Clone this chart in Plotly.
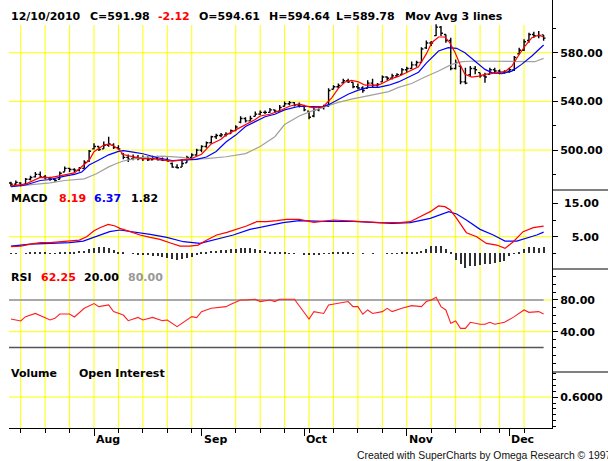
import plotly.graph_objects as go
import pandas as pd

# ---------------- data ----------------
holidays = ["2010-09-06", "2010-11-25"]
dates = [d for d in pd.bdate_range("2010-07-08", "2010-12-10")
         if d.strftime("%Y-%m-%d") not in holidays]
bar_idx = list(range(len(dates)))

opens = [473, 472, 473, 472, 476, 478, 480, 478, 477, 476,
         476, 482, 485, 484, 483.5, 485, 491, 501, 503, 501,
         504, 504, 502, 497, 494, 493, 494, 493, 493, 492,
         493, 492, 491.5, 489, 486, 486, 489.5, 494, 496, 500,
         503, 506, 511, 512, 512.5, 513.5, 516, 523, 526, 524,
         527.7, 529.5, 531, 531, 533, 532, 536, 538, 539, 537,
         536, 532, 528, 533, 535, 536, 550, 552, 555.2, 557,
         555.7, 552, 551, 550.7, 555, 553, 556, 560, 559, 561,
         562.1, 566, 567, 570, 572, 584, 588, 594, 601, 595,
         590, 567, 569, 556, 562, 567, 563.6, 561, 562.2, 566,
         565, 564, 564.5, 566, 579, 582, 590, 595, 594, 594.61]
highs = [474, 475, 473.5, 477, 479, 482, 482.5, 479.5, 478, 477,
         482.4, 486.6, 485.5, 485, 486, 491.6, 500, 505.6, 503, 507,
         511, 505.6, 504, 497.5, 496.4, 496.4, 496, 495.5, 495, 495.4,
         495.4, 494, 494, 489.7, 488.3, 492.6, 495.4, 497.4, 501, 504,
         507, 511.7, 513.4, 514, 514.6, 516.9, 520.3, 527.7, 526.9, 528.3,
         531.7, 532.6, 532.6, 534.6, 533.4, 537.1, 540, 540.3, 539.5, 539,
         537.3, 532, 536, 536, 537.3, 550.7, 553.3, 554.7, 558.7, 558.7,
         555.7, 554.7, 552.5, 557.3, 558.7, 555.2, 561.3, 560.5, 562.7, 563.2,
         567.5, 568.5, 572.8, 573.3, 584.5, 590, 589.6, 603.3, 601.9, 595,
         592.3, 574.5, 569, 567.7, 569, 569, 563.6, 563.6, 567.7, 567.7,
         566.3, 565.5, 567.7, 577.3, 584, 591, 596.4, 597.3, 597.8, 594.64]
lows = [470, 471, 470, 472, 475, 477.5, 477, 476, 474.8, 474,
        476, 482.4, 482, 481.5, 482.4, 484.6, 490.2, 500.5, 499.2, 501,
        502.8, 500.8, 500, 492.4, 490.2, 491.6, 491.6, 491, 491, 491.7,
        491.5, 491, 490.6, 485.4, 484.9, 486, 489.5, 494, 495.4, 498.3,
        502, 505.4, 509, 510.6, 511.1, 513.4, 515.4, 522, 522.6, 524,
        527.7, 528.9, 529.7, 530.6, 530.6, 532, 535.7, 536.8, 535.7, 535,
        532, 525.3, 527, 532, 533.3, 535.5, 549.9, 550.7, 555.2, 555.2,
        550.7, 549.9, 547.2, 550.7, 551.5, 552, 556, 557.3, 557.9, 560,
        562.1, 564, 566.7, 568.5, 572, 583, 585.5, 593.7, 593.7, 588.2,
        565.5, 566.3, 554, 554, 560.8, 562.2, 559.5, 555.3, 562.2, 562.7,
        562.2, 562.7, 563.6, 565, 578.6, 581.4, 588.2, 592.3, 591.8, 589.78]
closes = [472, 473.5, 471, 476, 477.5, 480, 478, 477.5, 476, 475,
          481, 485, 484, 483.5, 485, 490, 499, 503, 500.5, 504,
          505, 502, 501, 494, 492.5, 494, 493, 493, 492, 493,
          492, 491.5, 491, 486, 485.5, 489, 494, 496, 500, 503,
          506, 511, 512, 512.5, 513, 516, 519, 526, 524, 526,
          529.5, 531, 531, 533, 532, 535, 538, 539, 537, 536,
          533, 527, 533, 535, 536, 549, 552, 553, 557, 556,
          552, 551, 549, 555, 553, 554, 560, 559, 561, 562,
          566, 567, 570, 572, 583, 588, 588, 601, 596, 590,
          567, 572, 556, 555, 567, 566, 561, 560, 566, 565,
          564, 564.5, 566, 576, 582, 589, 595, 594, 594.10, 591.98]

# moving averages (bar position, value)
ma_fast_x = [0, 3, 6, 8, 11, 13, 14, 16, 17, 19, 20, 21, 22, 23, 25, 27, 29, 32, 33, 36,
             37, 39, 40, 41, 43, 44, 46, 48, 50, 51, 53, 55, 57, 59, 60, 62, 64, 65.6, 67, 68.4,
             69.7, 71.1, 72.5, 75.2, 76.6, 77.9, 79.3, 80.6, 82, 83.4, 85, 86.1, 87.5, 88.8, 89.8,
             90.9, 91.9, 92.9, 94.3, 95.7, 97, 98.4, 99.7, 101.1, 102.5, 103.8, 105.2, 106.6, 108, 109]
ma_fast_y = [470.6, 472, 477.6, 477.3, 479.6, 481.3, 484.6, 491.6, 498.6, 504.2,
             504.8, 503.6, 500.8, 496.4, 494.4, 493, 492.9, 491.4, 490.9, 492.3,
             493.1, 496.6, 500.9, 505.1, 508.9, 512.3, 516.6, 520.9, 525.1, 528,
             529.4, 532.3, 536, 538, 536.5, 534.7, 536, 542.7, 550.7, 556,
             557.3, 556, 553.3, 553.3, 556, 558.7, 560.5, 563.2, 565.9, 568.5,
             579, 588.2, 592.9, 592.9, 588.2, 580, 570.4, 562.2, 560, 560.8,
             562.2, 562.7, 563.6, 564.4, 569, 577.3, 585.5, 592.3, 594.5, 592.9]
ma_mid_x = [0, 3, 6, 8, 11, 13, 14.5, 16, 18, 20, 22, 23, 25, 27, 30, 32, 33, 36, 38, 40,
            42, 44, 46, 48, 50, 52, 54, 56, 59, 61.5, 63.6, 65, 67, 69.1, 71.1, 73.1, 75.2, 77.3,
            79.3, 81.3, 83.4, 85, 87.5, 89.5, 91.2, 92.9, 95, 97, 98.4, 100.4, 102.5, 104.5, 106.6, 109]
ma_mid_y = [470, 471.3, 475, 475.8, 478.6, 480, 482, 487.7, 491.9, 496.1,
            498.9, 499.5, 498.3, 497, 493.7, 492, 491.4, 492, 492.3, 494.3,
            498.9, 506.6, 512.3, 519.4, 523.7, 527.4, 529.4, 533, 536, 535.5,
            535.5, 537.3, 541.3, 546.1, 549.3, 551.5, 551.5, 553.3, 556, 560,
            564, 571.5, 581.4, 584.1, 583.6, 580, 573.2, 566.3, 563.6, 562.7,
            564.9, 570.4, 577.3, 586.3]
ma_slow_x = [0, 4, 8, 11, 15, 17.5, 20, 21.6, 23, 25, 27, 31, 35, 37, 40, 44, 48, 51, 54, 56,
             59, 61.5, 64.3, 67, 69.7, 72.5, 75.2, 77.3, 79.3, 82, 84.7, 87.5, 90.2, 92.3, 95,
             98.4, 101.8, 105.2, 107.2, 109]
ma_slow_y = [470, 471.3, 473, 475, 476.4, 480.6, 486.2, 489, 491, 492.5,
             494, 495, 494, 492.5, 493, 494.5, 497.1, 502.9, 511, 521,
             528, 532, 535.5, 539.2, 541.9, 544, 546.1, 548, 551.5, 554.7,
             560, 564.9, 570.4, 572.6, 573.2, 573.2, 573.2, 573.2, 572.6, 575.3]

# MACD
macd_x = [0, 2, 4, 6, 8, 10, 12, 14, 15.5, 17, 18.2, 19.9, 21.3, 22.3, 24.4, 26.4, 28.5, 30.5,
          32.5, 34.6, 36.6, 38.3, 40.1, 42.1, 44.2, 46.2, 48.2, 50.3, 52.3, 54.4, 56.4, 59, 62,
          66, 70, 75.5, 79.6, 81.7, 83.7, 85.8, 87.5, 88.8, 89.9, 91.2, 93.2, 95.3, 97.3, 99.4,
          101.1, 102.8, 104.8, 106.9, 109]
macd_y = [2.0, 2.2, 2.8, 3.2, 3.2, 3.5, 3.8, 4.0, 5.0, 6.8, 7.7, 8.7, 8.2, 7.5, 6.5, 5.5, 4.8, 4.2,
          3.2, 2.2, 2.2, 2.5, 4.0, 5.5, 6.3, 7.2, 8.2, 9.5, 9.5, 9.8, 10.2, 10.2, 9.3,
          10.0, 9.6, 9.2, 9.2, 9.5, 11.0, 12.5, 14.2, 14.0, 13.0, 10.5, 6.2, 5.0, 3.0, 2.5,
          1.5, 3.5, 6.5, 7.7, 8.19]
signal_x = [0, 4, 8, 12, 14.8, 17.5, 20.2, 22.3, 25, 28.5, 31.9, 35.3, 38.7, 42.1, 45.5, 48.9,
            52.3, 55.7, 59, 64, 70, 75.5, 78, 81.7, 85.8, 89.6, 91.2, 93.2, 96, 98.7, 101.1,
            103.5, 105.5, 107.6, 109]
signal_y = [2.2, 2.8, 3.0, 3.2, 3.7, 5.2, 6.5, 7.0, 6.5, 5.7, 4.8, 3.5, 3.0, 4.2, 5.5, 7.2,
            8.2, 9.2, 9.8, 9.6, 9.6, 9.2, 9.0, 9.2, 10.5, 12.5, 11.8, 10.0, 7.2, 5.5, 3.7,
            3.7, 4.5, 5.5, 6.37]
macd_hist = [-0.1, 0.1, 0, 0.1, 0.2, 0.2, 0.3, 0.2, 0.1, 0.1,
             0.2, 0.3, 0.4, 0.5, 0.6, 0.8, 1.3, 1.6, 2.0, 2.0,
             1.6, 1.0, 0.5, 0.2, 0, -0.1, -0.2, -0.3, -0.5, -0.7,
             -0.9, -1.2, -1.5, -1.8, -1.9, -1.8, -1.5, -1.0, -0.4, 0.2,
             0.5, 0.6, 0.8, 0.9, 1.0, 1.2, 1.4, 1.6, 1.6, 1.5,
             1.3, 0.9, 0.6, 0.4, 0.3, 0.3, 0.2, 0.1, 0.1, 0,
             -0.2, -0.4, -0.4, -0.3, -0.1, 0.1, 0.2, 0.3, 0.3, 0.2,
             0.1, 0, -0.1, 0, 0.1, 0, 0, 0.1, 0.1, 0.1,
             0.2, 0.2, 0.3, 0.5, 0.8, 1.3, 2.1, 2.3, 2.1, 1.3,
             0.3, -1.9, -3.2, -4.5, -3.9, -3.7, -3.5, -3.2, -3.2, -2.9,
             -2.7, -2.2, -0.9, 0.1, 0.5, 1.3, 1.8, 1.8, 1.5, 1.82]

# RSI
rsi_x = [0, 2, 3, 5, 7, 8, 9, 10, 12, 13, 15, 17, 18, 20, 21, 23, 24, 26, 27, 29,
         31, 32, 34, 35, 37, 38, 39, 41, 44, 45, 47, 48, 50, 51, 53, 54, 55, 58, 60, 61,
         62, 64, 65, 67, 69, 70, 71, 72, 73, 74, 76, 77, 78, 80, 81, 82, 84, 85, 86, 87,
         88, 89, 90, 91, 92, 93, 94, 96, 97, 98, 99, 101, 103, 105, 106, 108, 109]
rsi_y = [56, 53.5, 59, 63, 57.7, 54.7, 56.8, 62.3, 62.3, 58.5, 69.5, 75.4, 71.6, 73.7, 65.3, 61,
         53.9, 58, 54.7, 58, 53.9, 54.7, 46.3, 50.5, 59, 57.7, 65.3, 69.5, 71.6, 74.5, 80, 80,
         81, 78, 80, 78, 81, 81, 65.3, 56, 65.3, 63, 73.7, 75.8, 78, 71.6, 71.6, 62, 67.4, 63,
         65.3, 69.5, 65.3, 69.5, 70.7, 72.8, 71.6, 78, 80, 83.4, 71.6, 67.4, 50.5, 53.5, 44.2,
         44.2, 51.8, 49.3, 49.3, 51.8, 49.3, 51.8, 59, 67.4, 64.4, 65.3, 62.25]

header_items = ["12/10/2010", "C=591.98", "-2.12", "O=594.61", "H=594.64", "L=589.78", "Mov Avg 3 lines"]
macd_items = ["MACD", "8.19", "6.37", "1.82"]
rsi_items = ["RSI", "62.25", "20.00", "80.00"]
price_ticks = [500, 540, 580]
price_ticklabels = ["500.00", "540.00", "580.00"]
macd_ticks = [5, 15]
macd_ticklabels = ["\u00a0\u00a0\u00a05.00", "\u00a015.00"]
rsi_ticks = [40, 80]
rsi_ticklabels = ["40.00", "80.00"]
vol_ticks = [0.6]
vol_ticklabels = ["0.6000"]

# ---------------- layout helpers ----------------
W, H = 608, 461
ML, MR, MT, MB = 9, 56, 0, 33
PW, PH = W - ML - MR, H - MT - MB
X0, DX = 10.93, 4.887          # pixel of first bar, pixels per bar


def px2x(px):
    return (px - ML) / PW


def py2y(py):
    return 1 - (py - MT) / PH


xr = [(ML - X0) / DX, (ML + PW - X0) / DX]

month_idx = [i for i in range(1, len(dates)) if dates[i].month != dates[i - 1].month]
month_names = [dates[i].strftime("%b") for i in month_idx]
monday_idx = [i for i, d in enumerate(dates) if d.weekday() == 0]

BOLD = "DejaVu Sans"
YEL = "#ffff00"

fig = go.Figure()

# price panel
fig.add_trace(go.Scatter(x=ma_slow_x, y=ma_slow_y, mode="lines", line=dict(color="#a0a0a0", width=1.2),
                         yaxis="y", hoverinfo="skip"))
fig.add_trace(go.Scatter(x=ma_mid_x, y=ma_mid_y, mode="lines", line=dict(color="#0000ff", width=1.2),
                         yaxis="y", hoverinfo="skip"))
fig.add_trace(go.Scatter(x=ma_fast_x, y=ma_fast_y, mode="lines", line=dict(color="#ff0000", width=1.2),
                         yaxis="y", hoverinfo="skip"))
fig.add_trace(go.Ohlc(x=bar_idx, open=opens, high=highs, low=lows, close=closes,
                      increasing=dict(line=dict(color="black", width=1.4)),
                      decreasing=dict(line=dict(color="black", width=1.4)),
                      tickwidth=0.4, yaxis="y"))

# MACD panel
fig.add_trace(go.Bar(x=bar_idx, y=macd_hist, width=0.22, marker=dict(color="#303030", line=dict(width=0)),
                     yaxis="y2"))
fig.add_trace(go.Scatter(x=signal_x, y=signal_y, mode="lines", line=dict(color="#0000ff", width=1.2),
                         yaxis="y2"))
fig.add_trace(go.Scatter(x=macd_x, y=macd_y, mode="lines", line=dict(color="#ff0000", width=1.2),
                         yaxis="y2"))

# RSI panel
fig.add_trace(go.Scatter(x=rsi_x, y=rsi_y, mode="lines", line=dict(color="#ff2020", width=1.1),
                         yaxis="y3"))

# volume panel (empty)
fig.add_trace(go.Scatter(x=[bar_idx[0]], y=[None], mode="lines", yaxis="y4"))

shapes = []
for m in monday_idx:
    shapes.append(dict(type="line", xref="x", yref="paper", x0=m, x1=m, y0=0, y1=py2y(25),
                       line=dict(color=YEL, width=1), layer="below"))
for ref, vals in (("y", price_ticks), ("y2", [5]), ("y3", [40, 80]), ("y4", vol_ticks)):
    for v in vals:
        shapes.append(dict(type="line", xref="paper", yref=ref, x0=0, x1=1, y0=v, y1=v,
                           line=dict(color=YEL, width=1), layer="below"))
shapes.append(dict(type="line", xref="x", yref="y3", x0=xr[0], x1=bar_idx[-1], y0=80, y1=80,
                   line=dict(color="#a8a8a8", width=2), layer="below"))
shapes.append(dict(type="line", xref="x", yref="y3", x0=xr[0], x1=bar_idx[-1], y0=20, y1=20,
                   line=dict(color="#555555", width=1.5), layer="below"))
for sep in (190, 269, 372):
    shapes.append(dict(type="line", xref="paper", yref="paper", x0=1, x1=1 + MR / PW,
                       y0=py2y(sep), y1=py2y(sep), line=dict(color="black", width=1)))

ann = []


def label(txt, px, py, color="black", size=11, bold=True, family=BOLD):
    ann.append(dict(text=f"<b>{txt}</b>" if bold else txt, x=px2x(px), y=py2y(py),
                    xref="paper", yref="paper", xanchor="left", yanchor="middle",
                    showarrow=False, font=dict(family=family, size=size, color=color)))


hdr_x = [9, 88, 156, 197, 267, 334, 403]
hdr_c = ["black", "black", "#ff0000", "black", "black", "black", "black"]
for t, x, c in zip(header_items, hdr_x, hdr_c):
    label(t, x, 16.5, c)
for t, x, c in zip(macd_items, [9, 57, 92, 129], ["black", "#ff0000", "#0000ff", "black"]):
    label(t, x, 198, c)
for t, x, c in zip(rsi_items, [9, 39, 82, 126], ["black", "#ff0000", "black", "#999999"]):
    label(t, x, 277, c)
label("Volume", 9, 373)
label("Open Interest", 77, 373)
label("Created with SuperCharts by Omega Research \u00a9 1997", 355, 455, "#111111", 10.4, False,
      "Liberation Sans")
for i, n in zip(month_idx, month_names):
    ann.append(dict(text=f"<b>{n}</b>", x=i, y=py2y(440), xref="x", yref="paper",
                    xanchor="left", yanchor="middle", showarrow=False,
                    font=dict(family=BOLD, size=11, color="black")))


def yax(domain, rng, vals, texts, minors):
    return dict(domain=domain, range=rng, anchor="x", side="right", showline=True,
                linecolor="black", linewidth=1, ticks="outside", ticklen=5, tickcolor="black",
                tickwidth=1, tickmode="array", tickvals=vals, ticktext=texts,
                tickfont=dict(family=BOLD, size=11, color="black", weight="bold"),
                minor=dict(tickmode="array", tickvals=minors, ticks="outside", ticklen=3,
                           tickcolor="black", tickwidth=1, showgrid=False),
                showgrid=False, zeroline=False, fixedrange=True)


fig.update_layout(
    width=W, height=H, margin=dict(l=ML, r=MR, t=MT, b=MB, pad=0),
    paper_bgcolor="white", plot_bgcolor="white", showlegend=False, bargap=0,
    xaxis=dict(domain=[0, 1], range=xr, anchor="y4", showline=True, linecolor="black", linewidth=1,
               ticks="outside", tickmode="array", tickvals=month_idx, ticklen=7, tickcolor="black",
               tickwidth=1, showticklabels=False, showgrid=False, zeroline=False,
               minor=dict(tickmode="array", tickvals=monday_idx, ticks="outside", ticklen=4,
                          tickcolor="black", tickwidth=1, showgrid=False),
               rangeslider=dict(visible=False), fixedrange=True),
    yaxis=yax([py2y(190), 1], [467.2, 623.3], price_ticks, price_ticklabels, [480, 520, 560, 600]),
    yaxis2=yax([py2y(269), py2y(190)], [-4.67, 18.98], macd_ticks, macd_ticklabels, [0, 10]),
    yaxis3=yax([py2y(372), py2y(269)], [-10.9, 119.1], rsi_ticks, rsi_ticklabels,
               [0, 10, 20, 30, 50, 60, 70, 90, 100, 110]),
    yaxis4=yax([0, py2y(372)], [0.083, 1.017], vol_ticks, vol_ticklabels,
               [0.1, 0.2, 0.3, 0.4, 0.5, 0.7, 0.8, 0.9, 1.0]),
    shapes=shapes, annotations=ann,
)

fig.write_html("out.html", config={"displayModeBar": False},
               post_script="document.body.style.margin='0';document.body.style.overflow='hidden';")
